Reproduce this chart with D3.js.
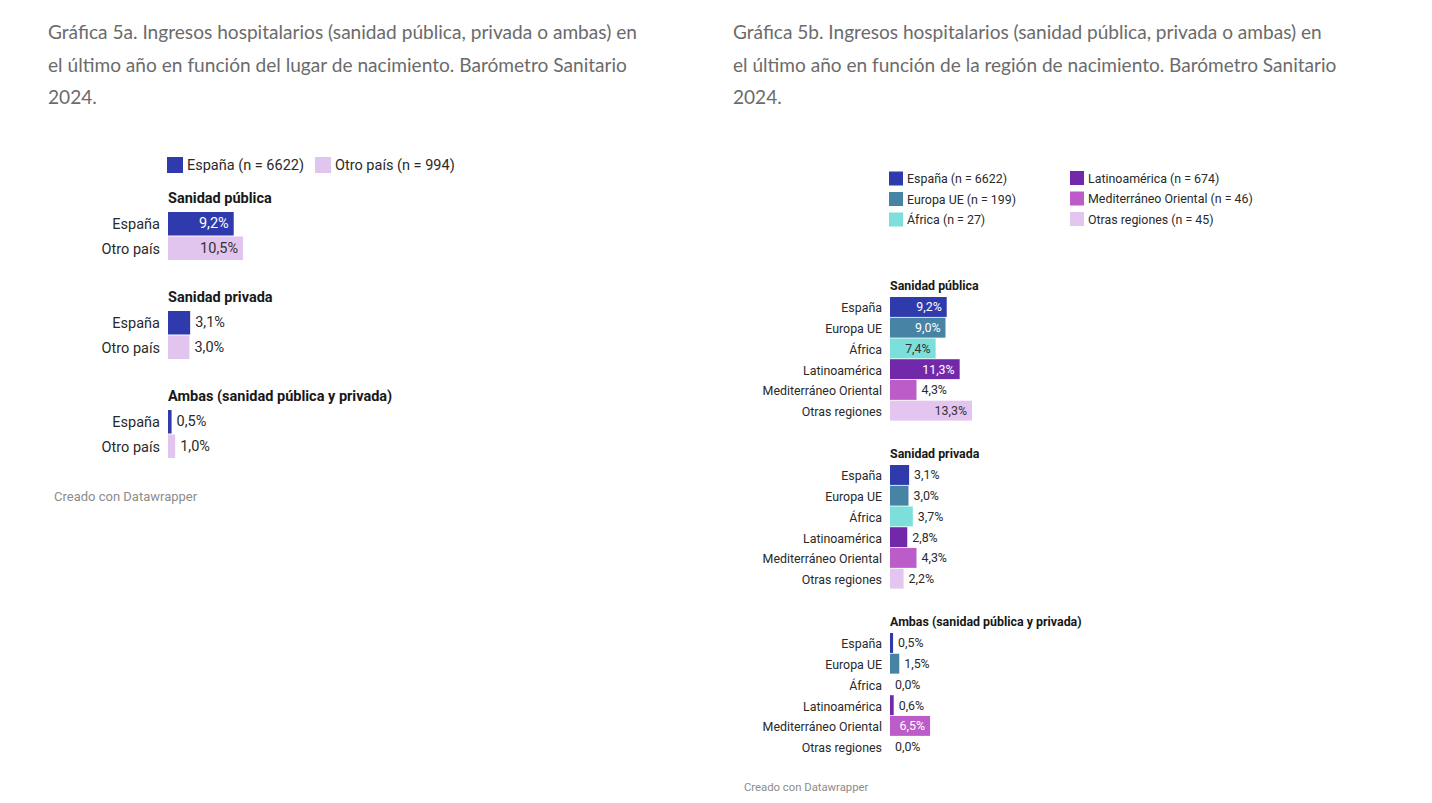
<!DOCTYPE html>
<html>
<head>
<meta charset="utf-8">
<script src="https://cdn.jsdelivr.net/npm/d3@7"></script>
<style>
  body { margin: 0; background: #fff; }
  svg { display: block; }
  .title { font-family: Lato, "Open Sans", sans-serif; fill: #6b6b6b; }
  .lbl { font-family: Roboto, sans-serif; fill: #2a2a2a; }
  .head { font-family: Roboto, sans-serif; font-weight: 700; fill: #181818; }
  .foot { font-family: Roboto, sans-serif; fill: #8c8c8c; }
</style>
</head>
<body>
<div id="chart"></div>
<script>
// Data
const grupos = ["Sanidad pública", "Sanidad privada", "Ambas (sanidad pública y privada)"];

const lugares = ["España", "Otro país"];
const lugaresN = [6622, 994];
const lugaresColor = ["#2f3bad", "#e2c5ef"];
const lugarEspana = [9.2, 3.1, 0.5];
const lugarOtro = [10.5, 3.0, 1.0];

const regiones = ["España", "Europa UE", "África", "Latinoamérica", "Mediterráneo Oriental", "Otras regiones"];
const regionesN = [6622, 199, 27, 674, 46, 45];
const regionesColor = ["#2f3bad", "#4683a5", "#7ddfdb", "#7229a9", "#bc5cc8", "#e3c5ef"];
const regEspana = [9.2, 3.1, 0.5];
const regEuropa = [9.0, 3.0, 1.5];
const regAfrica = [7.4, 3.7, 0.0];
const regLatam = [11.3, 2.8, 0.6];
const regMedit = [4.3, 4.3, 6.5];
const regOtras = [13.3, 2.2, 0.0];

const tituloA = [
  "Gráfica 5a. Ingresos hospitalarios (sanidad pública, privada o ambas) en",
  "el último año en función del lugar de nacimiento. Barómetro Sanitario",
  "2024."
];
const tituloB = [
  "Gráfica 5b. Ingresos hospitalarios (sanidad pública, privada o ambas) en",
  "el último año en función de la región de nacimiento. Barómetro Sanitario",
  "2024."
];

const locale = d3.formatLocale({ decimal: ",", thousands: ".", grouping: [3], currency: ["", "€"] });
const fmt = v => locale.format(".1f")(v) + "%";

const svg = d3.select("#chart").append("svg")
  .attr("width", 1432)
  .attr("height", 803);

// titles, sized so the first line fills the same width as the reference
function drawTitle(lines, x, width) {
  const g = svg.append("g");
  const t = g.selectAll("text").data(lines).enter().append("text")
    .attr("class", "title")
    .attr("x", x)
    .attr("y", (d, i) => 39 + i * 32.5)
    .attr("font-size", 20)
    .text(d => d);
  const w = t.node().getComputedTextLength();
  t.attr("font-size", 20 * width / w);
}
drawTitle(tituloA, 48, 589);
drawTitle(tituloB, 733, 589);

function drawPanel(opt) {
  const g = svg.append("g");
  const x = d3.scaleLinear()
    .domain([0, d3.max(opt.series.flat())])
    .range([0, opt.maxWidth]);
  const y = d3.scaleBand()
    .domain(opt.cats)
    .range([0, opt.bandHeight * opt.cats.length])
    .paddingInner(0.04);

  grupos.forEach((grp, gi) => {
    const top = opt.top + gi * opt.step;
    const gg = g.append("g").attr("transform", "translate(" + opt.left + "," + top + ")");

    gg.append("text")
      .attr("class", "head")
      .attr("x", 0)
      .attr("y", -opt.headGap)
      .attr("font-size", opt.fontSize)
      .attr("dominant-baseline", "central")
      .text(grp);

    const rows = opt.cats.map((c, ci) => ({ cat: c, v: opt.series[ci][gi], color: opt.colors[ci], dark: opt.dark[ci] }));

    gg.selectAll("text.cat").data(rows).enter().append("text")
      .attr("class", "lbl cat")
      .attr("x", -opt.labelGap)
      .attr("y", d => y(d.cat) + y.bandwidth() / 2 + 1)
      .attr("text-anchor", "end")
      .attr("dominant-baseline", "central")
      .attr("font-size", opt.fontSize)
      .text(d => d.cat);

    gg.selectAll("rect").data(rows).enter().append("rect")
      .attr("x", 0)
      .attr("y", d => y(d.cat))
      .attr("width", d => x(d.v))
      .attr("height", y.bandwidth())
      .attr("fill", d => d.color);

    gg.selectAll("text.val").data(rows).enter().append("text")
      .attr("class", "lbl val")
      .attr("y", d => y(d.cat) + y.bandwidth() / 2)
      .attr("dominant-baseline", "central")
      .attr("font-size", opt.fontSize)
      .text(d => fmt(d.v))
      .each(function (d) {
        const tw = this.getComputedTextLength();
        const sel = d3.select(this);
        if (tw + 10 <= x(d.v)) {
          sel.attr("x", x(d.v) - 5).attr("text-anchor", "end")
            .style("fill", d.dark ? "#fff" : "#333");
        } else {
          sel.attr("x", x(d.v) + 5).attr("text-anchor", "start");
        }
      });
  });

  // footer
  g.append("text")
    .attr("class", "foot")
    .attr("x", opt.footX)
    .attr("y", opt.footY)
    .attr("dominant-baseline", "central")
    .attr("font-size", opt.footSize)
    .text("Creado con Datawrapper");
}

// Panel 5a
drawPanel({
  cats: lugares,
  series: [lugarEspana, lugarOtro],
  colors: lugaresColor,
  dark: [true, false],
  left: 168, top: 212, step: 99,
  bandHeight: 24, maxWidth: 75,
  headGap: 14, labelGap: 8, fontSize: 14.5,
  footX: 54, footY: 496, footSize: 13
});

// Panel 5b
drawPanel({
  cats: regiones,
  series: [regEspana, regEuropa, regAfrica, regLatam, regMedit, regOtras],
  colors: regionesColor,
  dark: [true, true, false, true, true, false],
  left: 890, top: 297, step: 168,
  bandHeight: 20.6, maxWidth: 82,
  headGap: 12, labelGap: 8, fontSize: 12.4,
  footX: 744, footY: 787, footSize: 11.3
});

// Legends
function drawLegend(items, ns, colors, pos, size, fontSize) {
  const lg = svg.append("g");
  const it = lg.selectAll("g").data(items).enter().append("g")
    .attr("transform", (d, i) => "translate(" + pos[i][0] + "," + pos[i][1] + ")");
  it.append("rect")
    .attr("width", size)
    .attr("height", size)
    .attr("fill", (d, i) => colors[i]);
  it.append("text")
    .attr("class", "lbl")
    .attr("x", size + 4)
    .attr("y", size / 2)
    .attr("dominant-baseline", "central")
    .attr("font-size", fontSize)
    .text((d, i) => d + " (n = " + ns[i] + ")");
}
drawLegend(lugares, lugaresN, lugaresColor, [[167, 157], [315, 157]], 16, 14.5);
drawLegend(regiones, regionesN, regionesColor,
  [[889, 171.5], [889, 192], [889, 212.5], [1070, 171], [1070, 191.5], [1070, 212]], 14, 12.4);
</script>
</body>
</html>
